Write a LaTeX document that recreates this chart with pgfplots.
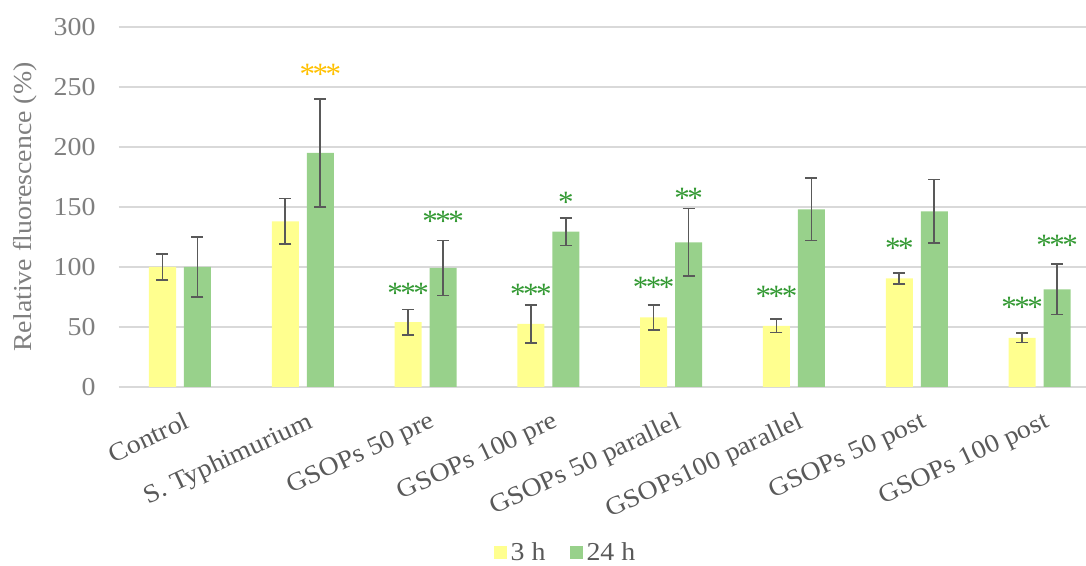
\documentclass[border=0pt]{standalone}
\usepackage{fontspec}
\setmainfont{Liberation Serif}[FakeStretch=1.08]
\newfontfamily\starfont{Liberation Serif}[LetterSpace=-8]
\usepackage{pgfplots}
\usepackage{pgfplotstable}
\pgfplotsset{compat=1.18}
\definecolor{barY}{HTML}{FFFF8F}
\definecolor{barG}{HTML}{98D18B}
\definecolor{starG}{HTML}{339933}
\definecolor{starY}{HTML}{FFC000}
\definecolor{gridc}{HTML}{D9D9D9}
\definecolor{txt}{HTML}{595959}
\definecolor{txtl}{HTML}{7F7F7F}

\pgfplotstableread{
x y e
0 100 11
1 138 19
2 54 10.7
3 52.5 16
4 58 10.5
5 51 5.5
6 90.6 4.6
7 41 4
}\yellowdata

\pgfplotstableread{
x y e
0 100 25
1 195 45
2 99.2 23
3 129.4 11.5
4 120.6 28
5 148 26
6 146.4 26.5
7 81.4 21
}\greendata

\pgfplotstableread{
x y s
2 87 ***
3 86 ***
4 91.8 ***
5 84.3 ***
6 124.6 **
7 74.8 ***
}\starsyellow

\pgfplotstableread{
x y s
2 146.5 ***
3 162.6 *
4 166 **
7 127 ***
}\starsgreen

\pgfplotstableread{
x y s
1 269 ***
}\starsgold

\begin{document}
\begin{tikzpicture}
\begin{axis}[
  name=ax,
  scale only axis,
  width=483.7pt, height=180pt,
  xmin=-0.5, xmax=7.378,
  ymin=0, ymax=300,
  ytick={0,50,...,300},
  xtick={0,...,7},
  xticklabels={Control, S. Typhimurium, GSOPs 50 pre, GSOPs 100 pre, GSOPs 50 parallel, GSOPs100 parallel, GSOPs 50 post, GSOPs 100 post},
  axis line style={draw=none},
  major tick length=0pt,
  ymajorgrids,
  grid style={gridc, line width=0.6pt},
  font=\fontsize{12.9}{14}\selectfont,
  /pgf/number format/assume math mode=true,
  yticklabel style={txtl, xshift=-8pt},
  xticklabel style={txt, rotate=25, anchor=north east, yshift=-8pt},
  ylabel={Relative fluorescence (\%)},
  ylabel style={txtl, at={(axis description cs:-0.097,0.5)}, anchor=center},
  clip=false,
  legend style={at={(axis description cs:0.463,-0.461)}, anchor=center, draw=none, fill=none, text=txt, legend columns=2,
    /tikz/every even column/.append style={column sep=10pt}},
  legend image code/.code={\fill[#1] (0pt,-3.25pt) rectangle (6.5pt,3.25pt);},
]
\addplot[ybar, bar width=13.5pt, bar shift=0pt, fill=barY, draw=none, forget plot,
  error bars/.cd, y dir=both, y explicit,
  error bar style={txt, line width=0.8pt},
  error mark options={rotate=90, txt, line width=0.8pt, mark size=3pt}]
  table[x expr=\thisrow{x}-0.1425, y=y, y error=e] {\yellowdata};
\addplot[ybar, bar width=13.5pt, bar shift=0pt, fill=barG, draw=none, forget plot,
  error bars/.cd, y dir=both, y explicit,
  error bar style={txt, line width=0.8pt},
  error mark options={rotate=90, txt, line width=0.8pt, mark size=3pt}]
  table[x expr=\thisrow{x}+0.1425, y=y, y error=e] {\greendata};

\addplot[draw=none, mark=none, forget plot, nodes near coords, point meta=explicit symbolic,
  nodes near coords style={starG, anchor=north, inner sep=0pt, font=\starfont\fontsize{15.5}{16}\selectfont}]
  table[x expr=\thisrow{x}-0.1425, y=y, meta=s] {\starsyellow};
\addplot[draw=none, mark=none, forget plot, nodes near coords, point meta=explicit symbolic,
  nodes near coords style={starG, anchor=north, inner sep=0pt, font=\starfont\fontsize{15.5}{16}\selectfont}]
  table[x expr=\thisrow{x}+0.1425, y=y, meta=s] {\starsgreen};
\addplot[draw=none, mark=none, forget plot, nodes near coords, point meta=explicit symbolic,
  nodes near coords style={starY, anchor=north, inner sep=0pt, font=\starfont\fontsize{15.5}{16}\selectfont}]
  table[x expr=\thisrow{x}+0.1425, y=y, meta=s] {\starsgold};

\addlegendimage{fill=barY, draw=none}
\addlegendentry{3 h}
\addlegendimage{fill=barG, draw=none}
\addlegendentry{24 h}
\end{axis}
\pgfresetboundingbox
\path[use as bounding box] ([shift={(-59.3pt,-89.5pt)}]ax.south west) rectangle ([yshift=13.5pt]ax.north east);
\end{tikzpicture}
\end{document}
